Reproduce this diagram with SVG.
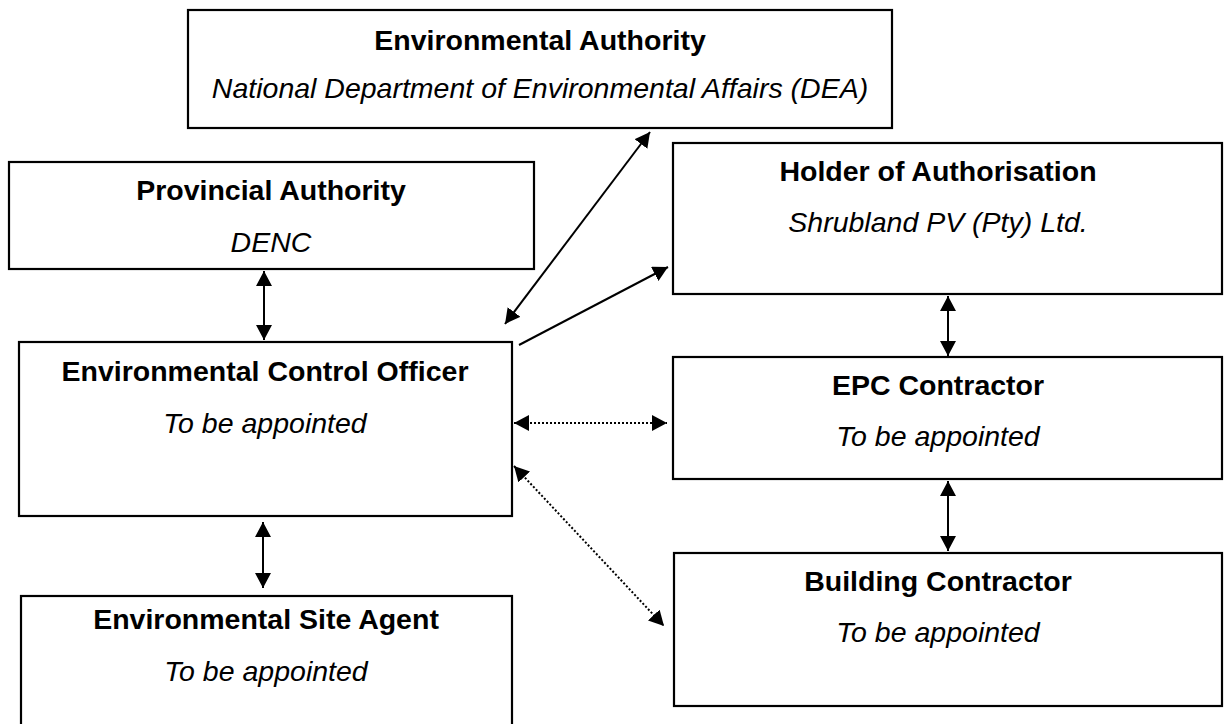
<svg xmlns="http://www.w3.org/2000/svg" width="1224" height="724" viewBox="0 0 1224 724">
  <defs>
    <style>
      .box { fill: #ffffff; stroke: #000000; stroke-width: 2.2; }
      .title { font-family: "Liberation Sans", Arial, sans-serif; font-weight: bold; font-size: 28.5px; fill: #000; text-anchor: middle; }
      .sub { font-family: "Liberation Sans", Arial, sans-serif; font-style: italic; font-size: 28.5px; fill: #000; text-anchor: middle; }
      .link { stroke: #000; stroke-width: 2; fill: none; }
      .dotted { stroke: #000; stroke-width: 2; fill: none; stroke-dasharray: 2 2; }
    </style>
    <!-- solid triangular head, reversed automatically at line starts -->
    <marker id="arrow" markerUnits="userSpaceOnUse" markerWidth="15" markerHeight="16" refX="15" refY="8" orient="auto-start-reverse">
      <path d="M0,0 L15,8 L0,16 z" fill="#000"/>
    </marker>
  </defs>
  <rect width="1224" height="724" fill="#ffffff"/>

  <g id="environmental-authority">
    <rect class="box" x="188" y="10" width="704" height="118"/>
    <text class="title" x="540" y="50">Environmental Authority</text>
    <text class="sub" x="540" y="98">National Department of Environmental Affairs (DEA)</text>
  </g>

  <g id="provincial-authority">
    <rect class="box" x="9" y="162" width="525" height="107"/>
    <text class="title" x="271" y="200">Provincial Authority</text>
    <text class="sub" x="271" y="252">DENC</text>
  </g>

  <g id="holder-of-authorisation">
    <rect class="box" x="673" y="143" width="549" height="151"/>
    <text class="title" x="938" y="181">Holder of Authorisation</text>
    <text class="sub" x="938" y="232">Shrubland PV (Pty) Ltd.</text>
  </g>

  <g id="environmental-control-officer">
    <rect class="box" x="19" y="342" width="493" height="174"/>
    <text class="title" x="265" y="381">Environmental Control Officer</text>
    <text class="sub" x="265" y="433">To be appointed</text>
  </g>

  <g id="epc-contractor">
    <rect class="box" x="673" y="357" width="549" height="122"/>
    <text class="title" x="938" y="395">EPC Contractor</text>
    <text class="sub" x="938" y="446">To be appointed</text>
  </g>

  <g id="building-contractor">
    <rect class="box" x="674" y="553" width="548" height="153"/>
    <text class="title" x="938" y="591">Building Contractor</text>
    <text class="sub" x="938" y="642">To be appointed</text>
  </g>

  <g id="environmental-site-agent">
    <rect class="box" x="21" y="596" width="491" height="150"/>
    <text class="title" x="266" y="629">Environmental Site Agent</text>
    <text class="sub" x="266" y="681">To be appointed</text>
  </g>

  <g id="connectors">
    <line class="link" x1="264" y1="271" x2="264" y2="340" marker-start="url(#arrow)" marker-end="url(#arrow)"/>
    <line class="link" x1="263" y1="522" x2="263" y2="588" marker-start="url(#arrow)" marker-end="url(#arrow)"/>
    <line class="link" x1="948" y1="296" x2="948" y2="356" marker-start="url(#arrow)" marker-end="url(#arrow)"/>
    <line class="link" x1="948" y1="481" x2="948" y2="551" marker-start="url(#arrow)" marker-end="url(#arrow)"/>
    <line class="link" x1="650" y1="132" x2="505" y2="324" marker-start="url(#arrow)" marker-end="url(#arrow)"/>
    <line class="link" x1="519" y1="345" x2="668" y2="267" marker-end="url(#arrow)"/>
    <line class="dotted" x1="514" y1="423" x2="667" y2="423" marker-start="url(#arrow)" marker-end="url(#arrow)"/>
    <line class="dotted" x1="514" y1="466" x2="664" y2="626" marker-start="url(#arrow)" marker-end="url(#arrow)"/>
  </g>
</svg>
